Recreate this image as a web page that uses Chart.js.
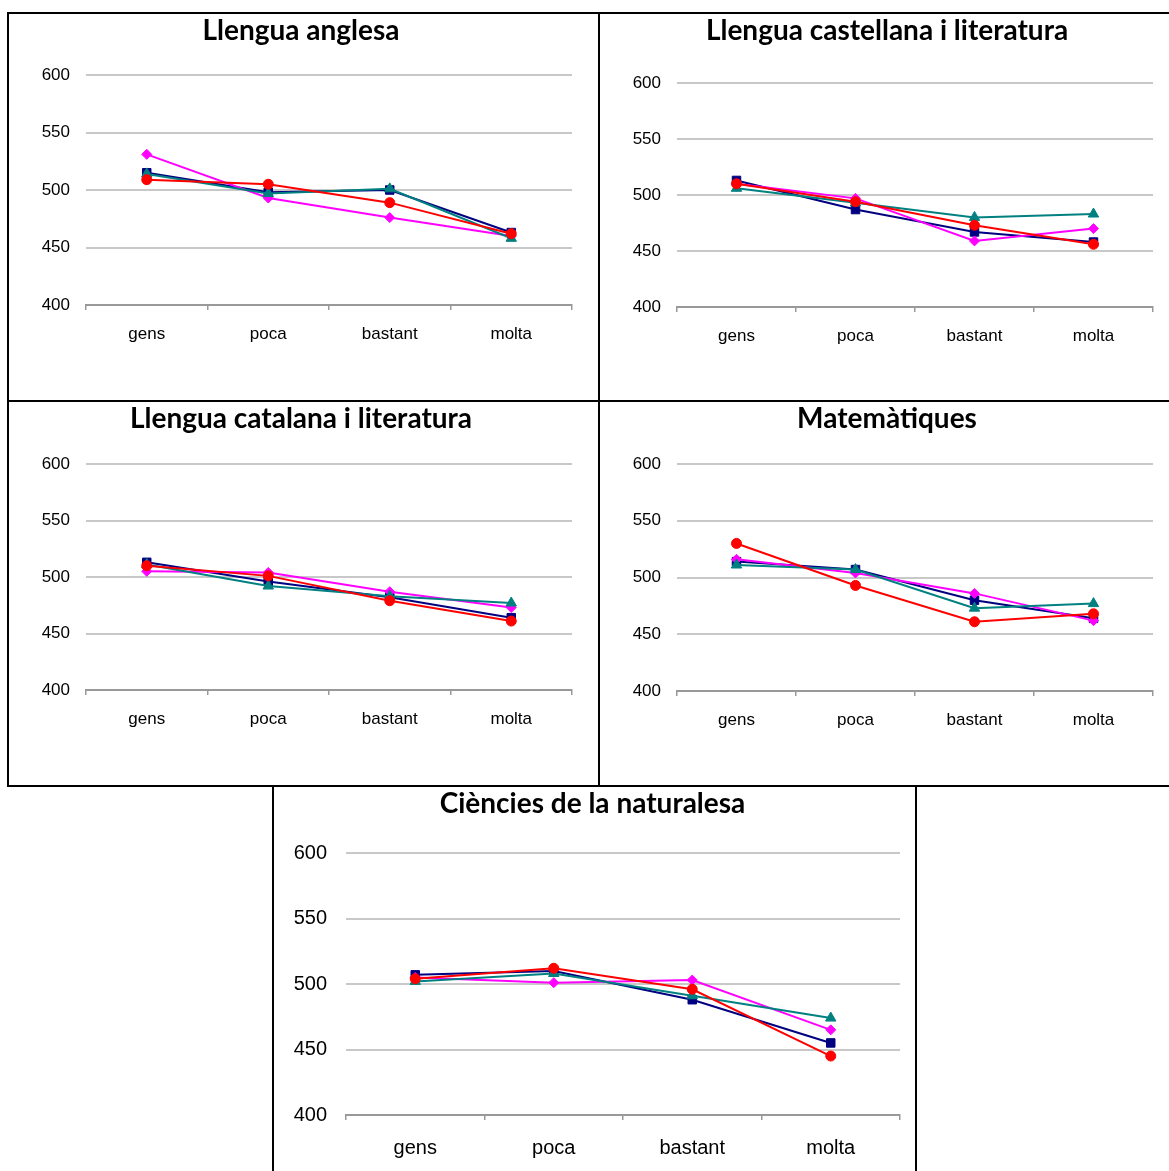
<!DOCTYPE html>
<html>
<head>
<meta charset="utf-8">
<script src="https://cdn.jsdelivr.net/npm/chart.js@4.4.1/dist/chart.umd.min.js"></script>
<style>
  html, body { margin: 0; padding: 0; background: #fff; }
  body { width: 1169px; height: 1171px; position: relative; overflow: hidden; }
  .ln { position: absolute; background: #000; }
  canvas { position: absolute; }
</style>
</head>
<body>
<!-- panel borders -->
<div class="ln" style="left:7px;top:12px;width:1162px;height:2px"></div>
<div class="ln" style="left:7px;top:400px;width:1162px;height:2px"></div>
<div class="ln" style="left:7px;top:785px;width:1162px;height:2px"></div>
<div class="ln" style="left:7px;top:12px;width:2px;height:775px"></div>
<div class="ln" style="left:598px;top:12px;width:2px;height:775px"></div>
<div class="ln" style="left:272px;top:785px;width:2px;height:386px"></div>
<div class="ln" style="left:915px;top:785px;width:2px;height:386px"></div>

<canvas id="c1" width="589" height="386" style="left:9px;top:14px"></canvas>
<canvas id="c2" width="569" height="386" style="left:600px;top:14px"></canvas>
<canvas id="c3" width="589" height="383" style="left:9px;top:402px"></canvas>
<canvas id="c4" width="569" height="383" style="left:600px;top:402px"></canvas>
<canvas id="c5" width="641" height="384" style="left:274px;top:787px"></canvas>

<script>
// ---- data ----
const categories = ['gens', 'poca', 'bastant', 'molta'];
const yMin = 400, yMax = 600, yStep = 50;

const titles = [
  'Llengua anglesa',
  'Llengua castellana i literatura',
  'Llengua catalana i literatura',
  'Matemàtiques',
  'Ciències de la naturalesa'
];

// series order: navy (squares), magenta (diamonds), teal (triangles), red (circles)
const anglesaNavy    = [515, 498, 500, 463];
const anglesaMagenta = [531, 493, 476, 460];
const anglesaTeal    = [514, 497, 501, 458];
const anglesaRed     = [509, 505, 489, 462];

const castellanaNavy    = [513, 487, 467, 458];
const castellanaMagenta = [510, 497, 459, 470];
const castellanaTeal    = [506, 493, 480, 483];
const castellanaRed     = [510, 494, 473, 456];

const catalanaNavy    = [513, 496, 482, 464];
const catalanaMagenta = [505, 504, 487, 473];
const catalanaTeal    = [511, 492, 483, 477];
const catalanaRed     = [510, 501, 479, 461];

const matematiquesNavy    = [514, 507, 480, 464];
const matematiquesMagenta = [516, 504, 486, 462];
const matematiquesTeal    = [511, 507, 473, 477];
const matematiquesRed     = [530, 493, 461, 468];

const cienciesNavy    = [507, 510, 488, 455];
const cienciesMagenta = [505, 501, 503, 465];
const cienciesTeal    = [502, 508, 491, 474];
const cienciesRed     = [504, 512, 496, 445];

// ---- styles ----
const seriesStyles = [
  { color: '#000080', pointStyle: 'rect',     radius: 6,   order: 3 },
  { color: '#FF00FF', pointStyle: 'rectRot',  radius: 5,   order: 2 },
  { color: '#008080', pointStyle: 'triangle', radius: 6,   order: 1 },
  { color: '#FF0000', pointStyle: 'circle',   radius: 5,   order: 0 }
];

function makeChart(id, title, seriesList, g) {
  const datasets = seriesList.map((vals, i) => {
    const s = seriesStyles[i];
    return {
      data: vals,
      borderColor: s.color,
      backgroundColor: s.color,
      pointBackgroundColor: s.color,
      pointBorderColor: s.color,
      pointBorderWidth: 1,
      pointStyle: s.pointStyle,
      pointRadius: s.radius,
      borderWidth: 2,
      tension: 0,
      order: s.order
    };
  });
  new Chart(document.getElementById(id), {
    type: 'line',
    data: { labels: categories, datasets },
    options: {
      responsive: false,
      animation: false,
      devicePixelRatio: 1,
      layout: { padding: { left: g.padLeft, right: g.padRight, top: 0, bottom: 0 } },
      plugins: {
        legend: { display: false },
        tooltip: { enabled: false },
        title: {
          display: true,
          text: title,
          color: '#000',
          font: { family: 'Lato', weight: 'bold', size: 28, lineHeight: 1.0 },
          padding: { top: g.titleTop, bottom: g.titleBottom }
        }
      },
      scales: {
        x: {
          offset: true,
          grid: {
            display: true,
            offset: true,
            drawOnChartArea: false,
            drawTicks: true,
            tickLength: 5,
            color: '#999999',
            lineWidth: 1.5
          },
          border: { display: true, color: '#999999', width: 2 },
          ticks: {
            color: '#000',
            padding: g.xPad,
            font: { family: 'Liberation Sans', size: g.font }
          },
          afterFit: (sc) => { sc.height = g.xHeight; }
        },
        y: {
          min: yMin,
          max: yMax,
          ticks: {
            stepSize: yStep,
            color: '#000',
            padding: g.yPad,
            font: { family: 'Liberation Sans', size: g.font }
          },
          grid: { color: '#c8c8c8', lineWidth: 2, drawTicks: false },
          border: { display: false },
          afterFit: (sc) => { sc.width = g.yWidth; }
        }
      }
    }
  });
}

makeChart('c1', titles[0], [anglesaNavy, anglesaMagenta, anglesaTeal, anglesaRed],
  { padLeft: 21, padRight: 26, titleTop: 3, titleBottom: 30, yWidth: 56, xHeight: 95, xPad: 14.5, yPad: 16, font: 17 });
makeChart('c2', titles[1], [castellanaNavy, castellanaMagenta, castellanaTeal, castellanaRed],
  { padLeft: 21, padRight: 16, titleTop: 3, titleBottom: 38, yWidth: 56, xHeight: 93, xPad: 14, yPad: 16, font: 17 });
makeChart('c3', titles[2], [catalanaNavy, catalanaMagenta, catalanaTeal, catalanaRed],
  { padLeft: 21, padRight: 26, titleTop: 3, titleBottom: 31, yWidth: 56, xHeight: 95, xPad: 14.5, yPad: 16, font: 17 });
makeChart('c4', titles[3], [matematiquesNavy, matematiquesMagenta, matematiquesTeal, matematiquesRed],
  { padLeft: 21, padRight: 16, titleTop: 3, titleBottom: 31, yWidth: 56, xHeight: 94, xPad: 14, yPad: 16, font: 17 });
makeChart('c5', titles[4], [cienciesNavy, cienciesMagenta, cienciesTeal, cienciesRed],
  { padLeft: 11, padRight: 15, titleTop: 3, titleBottom: 35, yWidth: 61, xHeight: 56, xPad: 16, yPad: 19, font: 20 });
</script>
</body>
</html>
